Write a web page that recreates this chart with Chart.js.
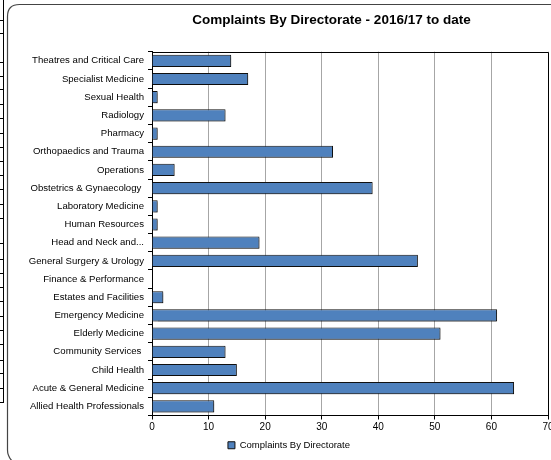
<!DOCTYPE html>
<html>
<head>
<meta charset="utf-8">
<script src="https://cdn.jsdelivr.net/npm/chart.js@4.4.1/dist/chart.umd.min.js"></script>
<style>
  html, body { margin: 0; padding: 0; background: #fff; }
  #wrap { width: 551px; height: 460px; position: relative; }
</style>
</head>
<body>
<div id="wrap"><canvas id="c" width="551" height="460"></canvas></div>
<script>
const chartTitle = 'Complaints By Directorate - 2016/17 to date';
const seriesName = 'Complaints By Directorate';
const categories = [
  'Theatres and Critical Care',
  'Specialist Medicine',
  'Sexual Health',
  'Radiology',
  'Pharmacy',
  'Orthopaedics and Trauma',
  'Operations',
  'Obstetrics & Gynaecology ',
  'Laboratory Medicine',
  'Human Resources',
  'Head and Neck and...',
  'General Surgery & Urology',
  'Finance & Performance',
  'Estates and Facilities',
  'Emergency Medicine',
  'Elderly Medicine',
  'Community Services ',
  'Child Health',
  'Acute & General Medicine',
  'Allied Health Professionals'
];
const complaints = [14, 17, 1, 13, 1, 32, 4, 39, 1, 1, 19, 47, 0, 2, 61, 51, 13, 15, 64, 11];
const xTicks = [0, 10, 20, 30, 40, 50, 60, 70];

const FONT = 'Liberation Sans, Arial, Helvetica, sans-serif';

const decor = {
  id: 'decor',
  beforeDraw(chart) {
    const ctx = chart.ctx;
    ctx.save();
    ctx.strokeStyle = '#000';
    ctx.lineWidth = 1;
    ctx.beginPath();
    ctx.moveTo(3.5, 0); ctx.lineTo(3.5, 402);
    const ys = [20,33,62,76,89,104,118,133,147,161,175,189,204,218,243,259,273,287,301,316,330,344,360,373,388,402];
    ys.forEach(y => { ctx.moveTo(0, y + 0.5); ctx.lineTo(4, y + 0.5); });
    ctx.stroke();
    ctx.strokeStyle = '#444';
    ctx.lineWidth = 1.2;
    const x0 = 7.5, y0 = 4.5, x1 = 560, r = 12;
    ctx.beginPath();
    ctx.moveTo(x1, y0);
    ctx.lineTo(x0 + r, y0);
    ctx.quadraticCurveTo(x0, y0, x0, y0 + r);
    ctx.lineTo(x0, 450);
    ctx.quadraticCurveTo(x0, 458, x0 + 8, 464);
    ctx.stroke();
    ctx.restore();
  },
  afterLayout(chart) {
    if (chart.titleBlock) { chart.titleBlock.left += 57.5; chart.titleBlock.right += 57.5; }
    if (chart.legend) { chart.legend.left += 15; chart.legend.right += 15; }
  },
  beforeDatasetsDraw(chart) {
    const ctx = chart.ctx;
    ctx.save();
    ctx.shadowColor = 'rgba(0,0,0,0.35)';
    ctx.shadowOffsetX = 1.5;
    ctx.shadowOffsetY = 1.5;
    ctx.shadowBlur = 1.5;
  },
  afterDatasetsDraw(chart) {
    chart.ctx.restore();
    const ctx = chart.ctx;
    const a = chart.chartArea;
    ctx.save();
    ctx.strokeStyle = '#000';
    ctx.lineWidth = 1;
    ctx.beginPath();
    ctx.moveTo(Math.round(a.left) + 0.5, Math.round(a.top) + 0.5);
    ctx.lineTo(Math.round(a.right) + 0.5, Math.round(a.top) + 0.5);
    ctx.lineTo(Math.round(a.right) + 0.5, Math.round(a.bottom) + 0.5);
    ctx.stroke();
    ctx.restore();
  }
};

new Chart(document.getElementById('c'), {
  type: 'bar',
  data: {
    labels: categories,
    datasets: [{
      label: seriesName,
      data: complaints,
      backgroundColor: '#4F81BD',
      borderColor: '#111',
      borderWidth: 1,
      barPercentage: 0.67,
      categoryPercentage: 1.0
    }]
  },
  options: {
    indexAxis: 'y',
    responsive: false,
    animation: false,
    devicePixelRatio: 1,
    layout: { padding: { left: 0, right: 3, top: 0, bottom: 0 } },
    plugins: {
      title: {
        display: true,
        text: chartTitle,
        color: '#000',
        font: { family: FONT, size: 13.5, weight: 'bold' },
        padding: { top: 12, bottom: 23.5 }
      },
      legend: {
        display: true,
        position: 'bottom',
        labels: {
          color: '#000',
          font: { family: FONT, size: 9.5 },
          boxWidth: 7,
          boxHeight: 7,
          padding: 5,
          generateLabels(chart) {
            return [{
              text: seriesName,
              fillStyle: '#4F81BD',
              strokeStyle: '#111',
              lineWidth: 1,
              datasetIndex: 0,
              hidden: false
            }];
          }
        }
      },
      tooltip: { enabled: false }
    },
    scales: {
      x: {
        min: 0,
        max: 70,
        afterBuildTicks(scale) { scale.ticks = xTicks.map(v => ({ value: v })); },
        ticks: {
          color: '#000',
          font: { family: FONT, size: 10 },
          padding: 2,
          maxRotation: 0
        },
        grid: {
          color: '#a6a6a6',
          lineWidth: 1,
          tickColor: '#000',
          tickLength: 4,
          drawOnChartArea: true
        },
        border: { display: true, color: '#000', width: 1 },
        afterFit(scale) { scale.height = 20; scale.paddingRight = 0; scale.paddingLeft = 0; }
      },
      y: {
        ticks: {
          color: '#000',
          font: { family: FONT, size: 9.6 },
          padding: 4,
          autoSkip: false
        },
        grid: {
          offset: true,
          drawOnChartArea: false,
          tickColor: '#000',
          tickLength: 4
        },
        border: { display: true, color: '#000', width: 1 },
        afterFit(scale) { scale.width = 152; scale.paddingTop = 0; scale.paddingBottom = 0; }
      }
    }
  },
  plugins: [decor]
});
</script>
</body>
</html>
